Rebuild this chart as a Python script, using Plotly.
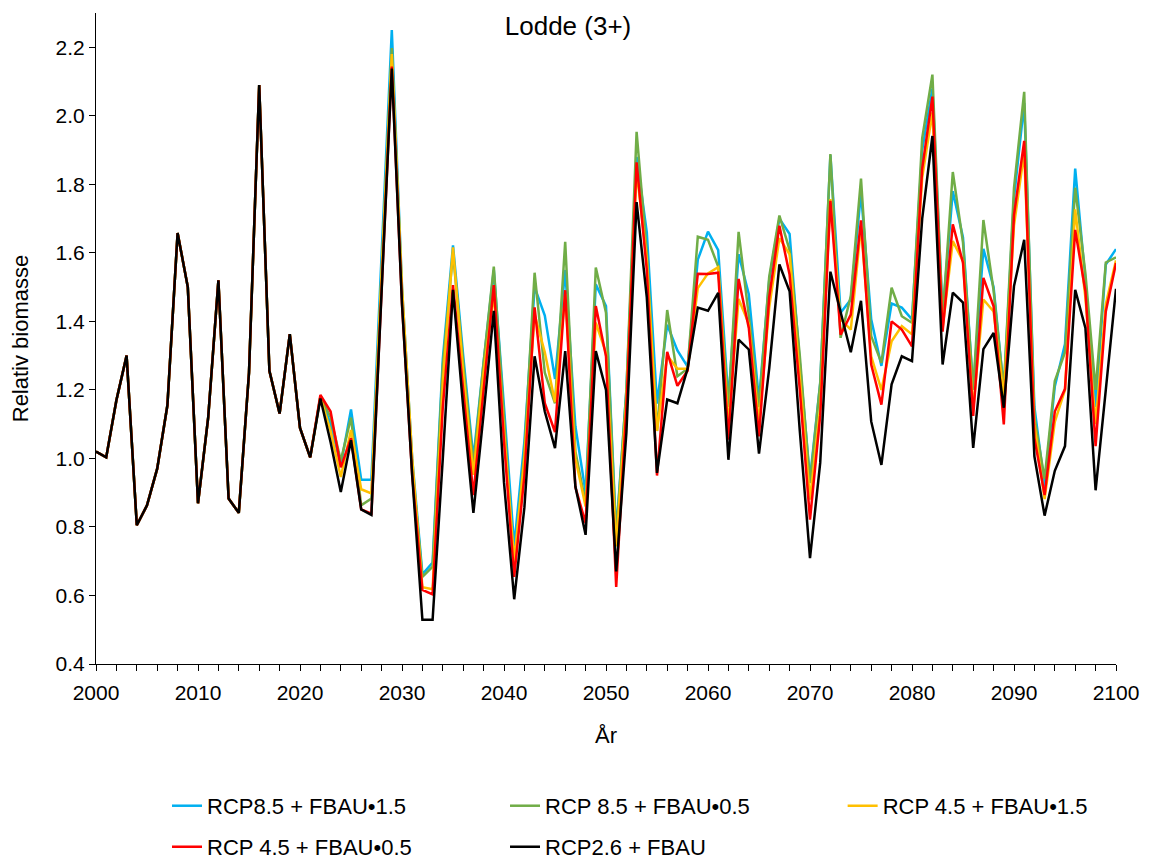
import plotly.graph_objects as go

years = list(range(2000, 2101))

common = [1.02, 1.003, 1.17, 1.30, 0.805, 0.863, 0.97, 1.155, 1.658, 1.50,
          0.869, 1.12, 1.52, 0.883, 0.841, 1.25, 2.09, 1.256, 1.131, 1.363,
          1.089, 1.003]

# 2022-2100 per series
blue_tail = [1.18, 1.10, 0.98, 1.143, 0.938, 0.938, 1.594, 2.25, 1.50, 1.00,
             0.662, 0.696, 1.29, 1.622, 1.30, 1.00, 1.28, 1.55, 1.15, 0.743,
             1.05, 1.50, 1.417, 1.232, 1.55, 1.094, 0.90, 1.508, 1.445, 0.782,
             1.20, 1.88, 1.66, 1.16, 1.39, 1.315, 1.268, 1.58, 1.662, 1.608,
             1.17, 1.596, 1.479, 1.17, 1.52, 1.70, 1.655, 1.28, 0.94, 1.22,
             1.885, 1.425, 1.464, 1.776, 1.406, 1.27, 1.452, 1.44, 1.406, 1.90,
             2.08, 1.42, 1.78, 1.645, 1.20, 1.612, 1.50, 1.20, 1.76, 2.037,
             1.15, 0.92, 1.21, 1.334, 1.846, 1.52, 1.15, 1.566, 1.611]
green_tail = [1.18, 1.12, 0.994, 1.119, 0.863, 0.883, 1.54, 2.198, 1.48, 0.98,
              0.654, 0.684, 1.27, 1.60, 1.28, 0.98, 1.28, 1.56, 1.12, 0.68,
              1.02, 1.542, 1.25, 1.161, 1.632, 1.02, 0.87, 1.557, 1.425, 0.77,
              1.20, 1.953, 1.60, 1.08, 1.433, 1.24, 1.262, 1.647, 1.638, 1.56,
              1.15, 1.661, 1.417, 1.15, 1.53, 1.709, 1.608, 1.30, 0.928, 1.22,
              1.888, 1.352, 1.474, 1.817, 1.357, 1.279, 1.498, 1.415, 1.396, 1.935,
              2.12, 1.41, 1.836, 1.63, 1.20, 1.696, 1.49, 1.20, 1.79, 2.07,
              1.12, 0.94, 1.226, 1.31, 1.79, 1.54, 1.20, 1.572, 1.587]
yellow_tail = [1.18, 1.08, 0.946, 1.083, 0.910, 0.898, 1.54, 2.18, 1.50, 1.00,
               0.624, 0.618, 1.22, 1.616, 1.25, 0.952, 1.25, 1.48, 1.08, 0.70,
               1.00, 1.42, 1.31, 1.164, 1.48, 1.00, 0.86, 1.396, 1.308, 0.743,
               1.17, 1.84, 1.58, 1.08, 1.30, 1.262, 1.262, 1.497, 1.54, 1.558,
               1.094, 1.465, 1.393, 1.103, 1.44, 1.643, 1.596, 1.25, 0.88, 1.15,
               1.757, 1.406, 1.376, 1.678, 1.298, 1.20, 1.342, 1.386, 1.362, 1.82,
               2.01, 1.38, 1.634, 1.576, 1.143, 1.464, 1.429, 1.182, 1.68, 1.894,
               1.10, 0.881, 1.107, 1.20, 1.727, 1.47, 1.10, 1.45, 1.578]
red_tail = [1.185, 1.137, 0.974, 1.059, 0.851, 0.839, 1.49, 2.144, 1.45, 0.95,
            0.616, 0.603, 1.15, 1.506, 1.20, 0.893, 1.20, 1.506, 1.05, 0.654,
            0.95, 1.441, 1.161, 1.077, 1.491, 0.916, 0.811, 1.445, 1.298, 0.625,
            1.15, 1.864, 1.55, 0.95, 1.311, 1.212, 1.256, 1.539, 1.538, 1.542,
            1.055, 1.524, 1.381, 1.064, 1.47, 1.679, 1.536, 1.20, 0.821, 1.124,
            1.752, 1.361, 1.42, 1.695, 1.274, 1.157, 1.40, 1.376, 1.327, 1.846,
            2.056, 1.37, 1.683, 1.571, 1.124, 1.527, 1.444, 1.099, 1.71, 1.927,
            1.06, 0.893, 1.137, 1.203, 1.667, 1.488, 1.036, 1.429, 1.57]
black_tail = [1.175, 1.047, 0.902, 1.053, 0.851, 0.835, 1.487, 2.138, 1.45, 0.95,
              0.529, 0.529, 1.00, 1.492, 1.15, 0.841, 1.13, 1.431, 0.93, 0.589,
              0.857, 1.298, 1.137, 1.03, 1.313, 0.918, 0.777, 1.313, 1.20, 0.67,
              1.075, 1.748, 1.47, 0.958, 1.172, 1.161, 1.262, 1.44, 1.431, 1.483,
              0.996, 1.347, 1.318, 1.014, 1.262, 1.566, 1.488, 1.08, 0.709, 0.987,
              1.545, 1.425, 1.31, 1.46, 1.108, 0.981, 1.216, 1.298, 1.284, 1.70,
              1.941, 1.274, 1.484, 1.455, 1.031, 1.319, 1.366, 1.148, 1.503, 1.638,
              1.006, 0.833, 0.964, 1.036, 1.492, 1.381, 0.907, 1.20, 1.495]

names = ["RCP8.5 + FBAU\u20221.5", "RCP 8.5 + FBAU\u20220.5", "RCP 4.5 + FBAU\u20221.5",
         "RCP 4.5 + FBAU\u20220.5", "RCP2.6 + FBAU"]
colors = ["#00B0F0", "#70AD47", "#FFC000", "#FF0000", "#000000"]
values = [common + blue_tail, common + green_tail, common + yellow_tail,
          common + red_tail, common + black_tail]
legend_ids = ["legend", "legend2", "legend3", "legend4", "legend5"]
# legend grid: (column x in paper, row y in paper)
legend_pos = [(0.0696, -0.218), (0.401, -0.218), (0.732, -0.218),
              (0.0696, -0.281), (0.401, -0.281)]

FONT = "Liberation Sans, Arial, sans-serif"

fig = go.Figure()
for name, color, vals, lg in zip(names, colors, values, legend_ids):
    fig.add_trace(go.Scatter(x=years, y=vals, mode="lines", name=name,
                             line=dict(color=color, width=2.5), legend=lg))

layout_legends = {}
for lg, (lx, ly) in zip(legend_ids, legend_pos):
    layout_legends[lg] = dict(orientation="h", x=lx, xanchor="left", y=ly, yanchor="middle",
                              font=dict(size=22, family=FONT, color="black"),
                              bgcolor="rgba(0,0,0,0)")

fig.update_layout(
    width=1149, height=864,
    margin=dict(l=96, r=33, t=13, b=200, autoexpand=False),
    paper_bgcolor="white", plot_bgcolor="white",
    font=dict(family=FONT, size=21, color="black"),
    title=dict(text="Lodde (3+)", x=568/1149, xref="container", xanchor="center",
               y=1-26/864, yref="container", yanchor="middle",
               font=dict(size=26, family=FONT, color="black")),
    showlegend=True,
    **layout_legends,
)

fig.update_xaxes(range=[2000, 2100], dtick=10, tick0=2000, showgrid=False, zeroline=False,
                 showline=True, linecolor="black", linewidth=1,
                 ticks="outside", ticklen=6, tickcolor="black", tickwidth=1,
                 minor=dict(dtick=2, ticks="outside", ticklen=6, tickcolor="black", tickwidth=1),
                 ticklabelstandoff=4,
                 title=dict(text="År", font=dict(size=22, family=FONT), standoff=24),
                 automargin=False)
fig.update_yaxes(range=[0.4, 2.3], dtick=0.2, tick0=0.4, tickformat=".1f",
                 showgrid=False, zeroline=False,
                 showline=True, linecolor="black", linewidth=1,
                 ticks="outside", ticklen=6, tickcolor="black", tickwidth=1,
                 title=dict(text="Relativ biomasse", font=dict(size=22, family=FONT), standoff=20),
                 automargin=False)

fig.write_html("out.html")
